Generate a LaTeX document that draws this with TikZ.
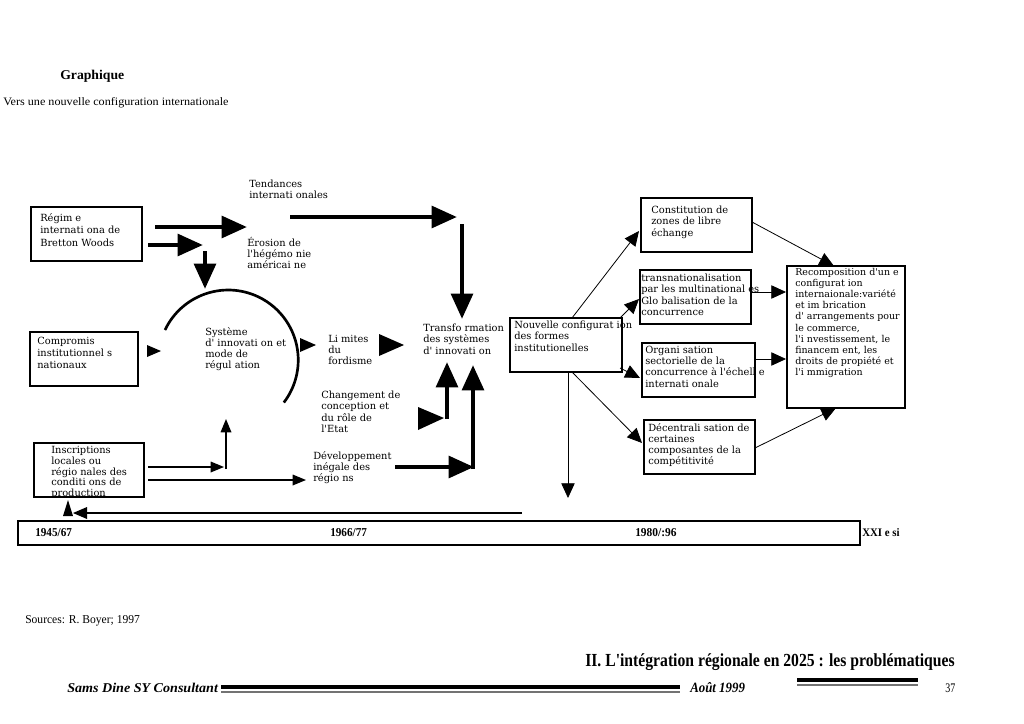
\documentclass[tikz,border=0pt]{standalone}
\usepackage{fontspec}
\usepackage{graphicx}
\usetikzlibrary{arrows.meta,fit}
\setmainfont{Liberation Serif}
\newfontfamily\diagfont[Ligatures=TeXOff]{DejaVu Serif}
\newfontfamily\titlefont[Ligatures=TeXOff]{Liberation Serif}
\tikzset{
  boxst/.style={draw, line width=1.7pt, inner sep=0pt},
  txt/.style={anchor=north west, inner sep=0pt, align=left, font=\diagfont\fontsize{7.4}{8.4}\selectfont},
  bigarr/.style={line width=3.6pt, -{Triangle[length=19pt,width=16pt]}},
  thinarr/.style={line width=0.6pt, -{Triangle[length=11pt,width=10pt]}},
  midarr/.style={line width=0.9pt, -{Triangle[length=10pt,width=8pt]}},
  lab/.style={anchor=west, inner sep=0pt},
  tri/.style={fill=black}
}
\begin{document}
\begin{tikzpicture}[x=0.75pt,y=-0.75pt]
\path[use as bounding box, fill=white] (0,0) rectangle (1024,724);

% header
\node[lab] (graph) at (60,76) {\resizebox{48pt}{7pt}{\bfseries Graphique}};
\node[lab] (vers) at (3,103) {\resizebox{169pt}{6pt}{Vers une nouvelle configuration internationale}};

% boxes
\node[boxst, fit={(31,207)(142,261)}] (regime) {};
\node[boxst, fit={(30,332)(138,386)}] (compromis) {};
\node[boxst, fit={(34,443)(144,497)}] (inscr) {};
\node[boxst, fit={(510,318)(622,372)}] (nouv) {};
\node[boxst, fit={(641,198)(752,252)}] (constit) {};
\node[boxst, fit={(640,270)(751,324)}] (transn) {};
\node[boxst, fit={(642,343)(755,397)}] (organ) {};
\node[boxst, fit={(644,420)(755,474)}] (decent) {};
\node[boxst, fit={(787,266)(905,408)}] (recomp) {};
\node[boxst, line width=2pt, fit={(18,521)(860,545)}] (timeline) {};

% texts
\node[txt, font=\diagfont\fontsize{7.4}{9.4}\selectfont] (tregime) at (40,213) {Régim e\\internati ona de\\Bretton Woods};
\node[txt] (ttend) at (249,180) {Tendances\\internati onales};
\node[txt] (teros) at (247,237) {Érosion de\\l'hégémo nie\\américai ne};
\node[txt] (tsyst) at (205,327) {Système\\d' innovati on et\\mode de\\régul ation};
\node[txt, font=\diagfont\fontsize{7.4}{9}\selectfont] (tcomp) at (37,337) {Compromis\\institutionnel s\\nationaux};
\node[txt] (tlim) at (328,335) {Li mites\\du\\fordisme};
\node[txt] (ttransfo) at (423,324) {Transfo rmation\\des systèmes\\d' innovati on};
\node[txt] (tchgt) at (321,391) {Changement de\\conception et\\du rôle de\\l'Etat};
\node[txt] (tdev) at (313,451) {Développement\\inégale des\\régio ns};
\begin{scope}
\clip (34,443) rectangle (144,497);
\node[txt, font=\diagfont\fontsize{7.4}{8.1}\selectfont] (tinscr) at (51,446) {Inscriptions\\locales ou\\régio nales des\\conditi ons de\\production};
\end{scope}
\node[txt] (tnouv) at (514,321) {Nouvelle configurat ion\\des formes\\institutionelles};
\node[txt] (tconst) at (651,206) {Constitution de\\zones de libre\\échange};
\node[txt] (ttransn) at (641,274) {transnationalisation\\par les multinational es\\Glo balisation de la\\concurrence};
\node[txt] (torgan) at (645,346) {Organi sation\\sectorielle de la\\concurrence à l'échell e\\internati onale};
\node[txt] (tdecent) at (648,423) {Décentrali sation de\\certaines\\composantes de la\\compétitivité};
\node[txt, font=\diagfont\fontsize{7.1}{8.35}\selectfont] (trecomp) at (795,268) {Recomposition d'un e\\configurat ion\\internaionale:variété\\et im brication\\d' arrangements pour\\le commerce,\\l'i nvestissement, le\\financem ent, les\\droits de propiété et\\l'i mmigration};

% thick arrows (left part)
\coordinate (a1s) at (155,227); \coordinate (a1e) at (247,227);
\coordinate (a2s) at (148,245); \coordinate (a2e) at (203,245);
\coordinate (a3s) at (205,251); \coordinate (a3e) at (205,289);
\draw[bigarr] (a1s) -- (a1e);
\draw[bigarr] (a2s) -- (a2e);
\draw[bigarr] (a3s) -- (a3e);
\coordinate (tls) at (290,217); \coordinate (tle) at (457,217);
\draw[bigarr] (tls) -- (tle);
\coordinate (tds) at (462,224); \coordinate (tde) at (462,319);
\draw[bigarr] (tds) -- (tde);

% circle arc
\draw[line width=2pt] (165,330) arc[start angle=-154.6, end angle=37.4, radius=70];

% shaftless arrowheads
\fill[tri] (147,345) -- (161,351) -- (147,357) -- cycle;
\fill[tri] (300,338) -- (316,345) -- (300,352) -- cycle;
\fill[tri] (379,334) -- (404,345) -- (379,356) -- cycle;
\fill[tri] (418,407) -- (444,418) -- (418,430) -- cycle;

% vertical thick arrows into Transformation
\coordinate (v1s) at (447,419); \coordinate (v1e) at (447,362);
\coordinate (v2s) at (473,469); \coordinate (v2e) at (473,365);
\draw[bigarr] (v1s) -- (v1e);
\draw[bigarr] (v2s) -- (v2e);
\coordinate (d1s) at (395,467); \coordinate (d1e) at (474,467);
\draw[bigarr] (d1s) -- (d1e);

% Inscriptions arrows
\coordinate (i1s) at (148,467); \coordinate (i1e) at (224,467);
\draw[midarr] (i1s) -- (i1e);
\coordinate (i2s) at (226,469); \coordinate (i2e) at (226,419);
\draw[midarr] (i2s) -- (i2e);
\coordinate (i3s) at (148,480); \coordinate (i3e) at (306,480);
\draw[midarr] (i3s) -- (i3e);

% return line
\coordinate (rs) at (522,513); \coordinate (re) at (86,513);
\draw[line width=0.9pt] (rs) -- (re);
\fill[tri] (87,507) -- (73,513) -- (87,519) -- cycle;
\fill[tri] (63,516) -- (68,500) -- (73,516) -- cycle;

% arrows from Nouvelle configuration
\coordinate (n1) at (572,318); \coordinate (c1) at (639,231);
\draw[thinarr] (n1) -- (c1);
\coordinate (n2) at (620,318); \coordinate (c2) at (639,299);
\draw[thinarr] (n2) -- (c2);
\coordinate (n3) at (620,368); \coordinate (c3) at (640,378);
\draw[thinarr] (n3) -- (c3);
\coordinate (n4) at (572,372); \coordinate (c4) at (642,443);
\draw[thinarr] (n4) -- (c4);
\coordinate (n5) at (568,372); \coordinate (c5) at (568,498);
\draw[thinarr] (n5) -- (c5);

% arrows into Recomposition
\coordinate (r1s) at (752,222); \coordinate (r1e) at (834,266);
\draw[thinarr] (r1s) -- (r1e);
\coordinate (r2s) at (752,292); \coordinate (r2e) at (786,292);
\draw[thinarr] (r2s) -- (r2e);
\coordinate (r3s) at (755,359); \coordinate (r3e) at (786,359);
\draw[thinarr] (r3s) -- (r3e);
\coordinate (r4s) at (755,448); \coordinate (r4e) at (836,408);
\draw[thinarr] (r4s) -- (r4e);

% timeline labels
\node[lab] (y1) at (35,533) {\resizebox{27.5pt}{6pt}{\bfseries 1945/67}};
\node[lab] (y2) at (330,533) {\resizebox{27.5pt}{6pt}{\bfseries 1966/77}};
\node[lab] (y3) at (635,533) {\resizebox{31pt}{6pt}{\bfseries 1980/:96}};
\node[lab] (y4) at (862,533) {\resizebox{28pt}{6pt}{\bfseries XXI e si}};

% footer
\node[lab] (src) at (25,621) {\resizebox{86pt}{6pt}{Sources: R. Boyer; 1997}};
\node[lab] (title) at (585,662) {\resizebox{277pt}{9.6pt}{\titlefont\bfseries II. L'intégration régionale en 2025 : les problématiques}};
\node[lab] (auth) at (67,688) {\resizebox{113pt}{7pt}{\bfseries\itshape Sams Dine SY Consultant}};
\node[lab] (date) at (690,688) {\resizebox{41pt}{7.5pt}{\bfseries\itshape Août 1999}};
\node[lab] (page) at (945,688) {\resizebox{7.5pt}{6.5pt}{37}};
\draw[line width=2.4pt] (221,687) -- (680,687);
\draw[line width=1.2pt, black!55] (221,692) -- (680,692);
\draw[line width=2.4pt] (797,680) -- (918,680);
\draw[line width=1.2pt, black!55] (797,685) -- (918,685);
\end{tikzpicture}
\end{document}
